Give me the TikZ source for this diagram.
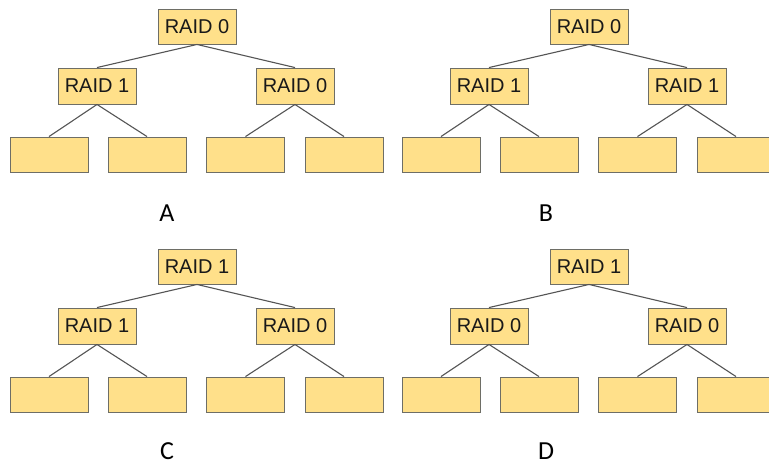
\documentclass[tikz,border=0pt]{standalone}
\usepackage{fontspec}
\setmainfont{Liberation Sans}
\newfontfamily\labelfont{Carlito}
\definecolor{boxfill}{HTML}{FFE08A}
\definecolor{boxline}{HTML}{6E6E66}
\definecolor{linkline}{HTML}{555555}
\begin{document}
\begin{tikzpicture}[x=1pt,y=-1pt,
  raidbox/.style={draw=boxline,line width=0.9pt,fill=boxfill,minimum width=78pt,minimum height=35pt,inner sep=0pt,font=\fontsize{20}{24}\selectfont,text=black!90},
  diskbox/.style={draw=boxline,line width=0.9pt,fill=boxfill,minimum width=78pt,minimum height=35pt,inner sep=0pt},
  link/.style={draw=linkline,line width=1.1pt},
  panellabel/.style={font=\labelfont\fontsize{26}{30}\selectfont,inner sep=0pt},
  pics/raidtree/.style n args={3}{code={
    \node[raidbox] (-top) at (197,26.5) {#1};
    \node[raidbox,minimum height=36pt] (-l) at (97,86) {#2};
    \node[raidbox,minimum height=36pt] (-r) at (295,86) {#3};
    \node[diskbox] (-d1) at (49,154.5) {};
    \node[diskbox] (-d2) at (147,154.5) {};
    \node[diskbox] (-d3) at (245.5,154.5) {};
    \node[diskbox] (-d4) at (344,154.5) {};
    \draw[link] (-top.south) -- (-l.north);
    \draw[link] (-top.south) -- (-r.north);
    \draw[link] (-l.south) -- (-d1.north);
    \draw[link] (-l.south) -- (-d2.north);
    \draw[link] (-r.south) -- (-d3.north);
    \draw[link] (-r.south) -- (-d4.north);
  }}]
\useasboundingbox (0,0) rectangle (769,464);
\clip (0,0) rectangle (769,464);
\fill[white] (0,0) rectangle (769,464);
\pic (A) at (0,0) {raidtree={RAID 0}{RAID 1}{RAID 0}};
\pic (B) at (392,0) {raidtree={RAID 0}{RAID 1}{RAID 1}};
\pic (C) at (0,240) {raidtree={RAID 1}{RAID 1}{RAID 0}};
\pic (D) at (392,240) {raidtree={RAID 1}{RAID 0}{RAID 0}};
\node[panellabel] (labA) at (167,213) {A};
\node[panellabel] (labB) at (546,213) {B};
\node[panellabel] (labC) at (167,451) {C};
\node[panellabel] (labD) at (546,451) {D};
\end{tikzpicture}
\end{document}
